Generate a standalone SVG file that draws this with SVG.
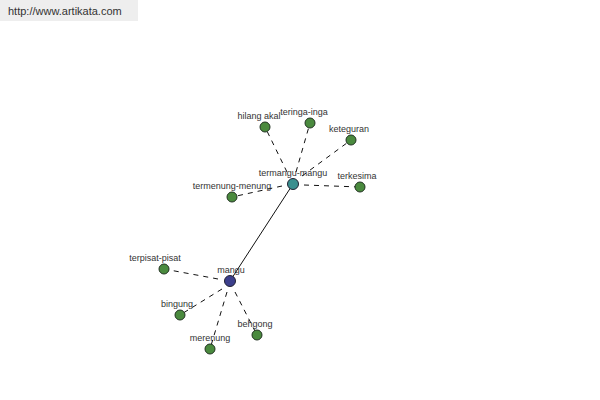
<svg xmlns="http://www.w3.org/2000/svg" width="600" height="400" viewBox="0 0 600 400">
<style>
.lbl{font-family:"Liberation Sans",Arial,sans-serif;font-size:9px;fill:#333;text-anchor:middle}
.leaf{fill:#4a8a3e;stroke:#223322;stroke-width:1}
.e{stroke:#111;stroke-width:1;fill:none}
.d{stroke-dasharray:5,5}
</style>
<rect x="0" y="0" width="600" height="400" fill="#fff"/>
<g id="header">
<rect x="0" y="0" width="138" height="21" fill="#eeeeee"/>
<text x="8" y="15" style="font-family:'Liberation Sans',Arial,sans-serif;font-size:11px;fill:#333">http://www.artikata.com</text>
</g>
<g id="connectors">
<line class="e" x1="293" y1="184" x2="230" y2="281"/>
<line class="e d" x1="287" y1="172" x2="265" y2="127"/>
<line class="e d" x1="296" y1="172" x2="310" y2="123"/>
<line class="e d" x1="302" y1="176" x2="351" y2="140"/>
<line class="e d" x1="304" y1="185" x2="360" y2="187"/>
<line class="e d" x1="282" y1="186" x2="232" y2="197"/>
<line class="e d" x1="218" y1="279" x2="164" y2="269"/>
<line class="e d" x1="222" y1="289" x2="180" y2="315"/>
<line class="e d" x1="227" y1="292" x2="210" y2="349"/>
<line class="e d" x1="235" y1="292" x2="257" y2="335"/>
</g>
<g id="termangu-mangu"><circle cx="293" cy="184" r="5.5" fill="#3a8f8f" stroke="#223"/><text class="lbl" x="293" y="176">termangu-mangu</text></g>
<g id="mangu"><circle cx="230" cy="281" r="5.5" fill="#3c3f8c" stroke="#223"/><text class="lbl" x="231" y="273">mangu</text></g>
<g id="hilang-akal"><circle class="leaf" cx="265" cy="127" r="5"/><text class="lbl" x="259" y="119">hilang akal</text></g>
<g id="teringa-inga"><circle class="leaf" cx="310" cy="123" r="5"/><text class="lbl" x="304" y="115">teringa-inga</text></g>
<g id="keteguran"><circle class="leaf" cx="351" cy="140" r="5"/><text class="lbl" x="349" y="132">keteguran</text></g>
<g id="terkesima"><circle class="leaf" cx="360" cy="187" r="5"/><text class="lbl" x="357" y="179">terkesima</text></g>
<g id="termenung-menung"><circle class="leaf" cx="232" cy="197" r="5"/><text class="lbl" x="232" y="189">termenung-menung</text></g>
<g id="terpisat-pisat"><circle class="leaf" cx="164" cy="269" r="5"/><text class="lbl" x="155" y="261">terpisat-pisat</text></g>
<g id="bingung"><circle class="leaf" cx="180" cy="315" r="5"/><text class="lbl" x="177" y="307">bingung</text></g>
<g id="merenung"><circle class="leaf" cx="210" cy="349" r="5"/><text class="lbl" x="210" y="341">merenung</text></g>
<g id="behgong"><circle class="leaf" cx="257" cy="335" r="5"/><text class="lbl" x="255" y="327">behgong</text></g>
</svg>
